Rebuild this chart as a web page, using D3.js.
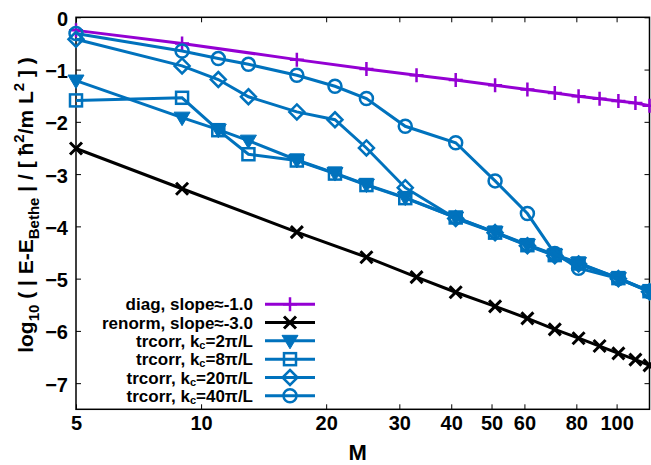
<!DOCTYPE html>
<html>
<head>
<meta charset="utf-8">
<script src="https://cdn.jsdelivr.net/npm/d3@7"></script>
<style>
  body { margin: 0; background: #fff; }
  svg { display: block; }
  text { font-family: "Liberation Sans", Arial, sans-serif; font-weight: bold; }
</style>
</head>
<body>
<div id="root"></div>
<script>
// M values for the diag / renorm runs and for the trcorr runs
let mDiag = [5, 9, 17, 25, 33, 41, 51, 61, 71, 81, 91, 101, 111, 120];
let mTr = [5, 9, 11, 13, 17, 21, 25, 31, 41, 51, 61, 71, 81, 101, 120];

let diag = [-0.25, -0.50, -0.81, -0.99, -1.11, -1.20, -1.30, -1.38, -1.45, -1.51, -1.56, -1.60, -1.64, -1.69];
let renorm = [-2.51, -3.28, -4.11, -4.59, -4.97, -5.26, -5.53, -5.76, -5.97, -6.14, -6.29, -6.43, -6.55, -6.66];
let kc2 = [-1.21, -1.92, -2.15, -2.36, -2.73, -2.98, -3.20, -3.45, -3.83, -4.11, -4.35, -4.54, -4.70, -4.99, -5.24];
let kc8 = [-1.59, -1.54, -2.16, -2.62, -2.74, -2.99, -3.21, -3.46, -3.83, -4.12, -4.36, -4.55, -4.71, -4.99, -5.24];
let kc20 = [-0.42, -0.93, -1.19, -1.52, -1.81, -1.96, -2.50, -3.26, -3.85, -4.12, -4.37, -4.56, -4.72, -5.00, -5.25];
let kc40 = [-0.31, -0.645, -0.79, -0.90, -1.11, -1.32, -1.555, -2.085, -2.40, -3.13, -3.755, -4.52, -4.80, -5.00, -5.25];

let xTicks = [5, 10, 20, 30, 40, 50, 60, 80, 100];
let yTicks = [0, -1, -2, -3, -4, -5, -6, -7];

let series = [
    { name: "diag", label: ["diag, slope≈-1.0"], m: mDiag, v: diag, color: "#9400d3", mark: "plus" },
    { name: "renorm", label: ["renorm, slope≈-3.0"], m: mDiag, v: renorm, color: "#000000", mark: "cross" },
    { name: "kc2", label: ["trcorr, k", "c", "=2π/L"], m: mTr, v: kc2, color: "#0072bd", mark: "triangle" },
    { name: "kc8", label: ["trcorr, k", "c", "=8π/L"], m: mTr, v: kc8, color: "#0072bd", mark: "square" },
    { name: "kc20", label: ["trcorr, k", "c", "=20π/L"], m: mTr, v: kc20, color: "#0072bd", mark: "diamond" },
    { name: "kc40", label: ["trcorr, k", "c", "=40π/L"], m: mTr, v: kc40, color: "#0072bd", mark: "circle" }
];

let width = 651, height = 465;
let plotLeft = 76, plotRight = 649.5, plotTop = 17.3, plotBottom = 409.3;

let svg = d3.select('#root').append('svg')
    .attr('width', width)
    .attr('height', height);

let x = d3.scaleLog().domain([5, 120]).range([plotLeft, plotRight]);
let y = d3.scaleLinear().domain([-7.5, 0]).range([plotBottom, plotTop]);

// axes, ticks pointing inward
let gx = svg.append('g').attr('transform', 'translate(0,' + plotBottom + ')')
    .call(d3.axisBottom(x).tickValues(xTicks).tickFormat(d3.format('d')).tickSize(-5).tickPadding(7));
let gy = svg.append('g').attr('transform', 'translate(' + plotLeft + ',0)')
    .call(d3.axisLeft(y).tickValues(yTicks).tickFormat(d3.format('d')).tickSize(-5).tickPadding(8));
svg.append('g').attr('transform', 'translate(0,' + plotTop + ')')
    .call(d3.axisTop(x).tickValues(xTicks).tickFormat('').tickSize(-5));
svg.append('g').attr('transform', 'translate(' + plotRight + ',0)')
    .call(d3.axisRight(y).tickValues(yTicks).tickFormat('').tickSize(-5));

svg.selectAll('.domain').remove();
svg.selectAll('.tick line').attr('stroke', '#000').attr('stroke-width', 1);
gx.selectAll('text').style('font-size', '20px').attr('fill', '#000');
gy.selectAll('text').style('font-size', '20px').attr('fill', '#000').attr('dy', '0.4em');

svg.append('rect')
    .attr('x', plotLeft).attr('y', plotTop)
    .attr('width', plotRight - plotLeft).attr('height', plotBottom - plotTop)
    .attr('fill', 'none').attr('stroke', '#000').attr('stroke-width', 1.5);

// axis titles
svg.append('text')
    .attr('x', (plotLeft + plotRight) / 2 - 5).attr('y', 460)
    .attr('text-anchor', 'middle')
    .style('font-size', '22px')
    .text('M');

let ylab = svg.append('text')
    .attr('transform', 'translate(33,205) rotate(-90)')
    .attr('text-anchor', 'middle')
    .style('font-size', '21px');
ylab.append('tspan').text('log');
ylab.append('tspan').attr('dy', 6).style('font-size', '15px').text('10');
ylab.append('tspan').attr('dy', -6).text(' ( | E-E');
ylab.append('tspan').attr('dy', 6).style('font-size', '15px').text('Bethe');
ylab.append('tspan').attr('dy', -6).text(' | / [ ħ');
ylab.append('tspan').attr('dy', -9).style('font-size', '15px').text('2');
ylab.append('tspan').attr('dy', 9).text('/m L');
ylab.append('tspan').attr('dy', -9).style('font-size', '15px').text('2');
ylab.append('tspan').attr('dy', 9).text(' ] )');

function drawMark(g, kind, color, cx, cy) {
    let s = 7;
    if (kind === 'plus') {
        g.append('path').attr('d', 'M' + (cx - s) + ',' + cy + 'H' + (cx + s) + 'M' + cx + ',' + (cy - s) + 'V' + (cy + s))
            .attr('stroke', color).attr('stroke-width', 2.5).attr('fill', 'none');
    } else if (kind === 'cross') {
        let c = 6;
        g.append('path').attr('d', 'M' + (cx - c) + ',' + (cy - c) + 'L' + (cx + c) + ',' + (cy + c) + 'M' + (cx - c) + ',' + (cy + c) + 'L' + (cx + c) + ',' + (cy - c))
            .attr('stroke', color).attr('stroke-width', 3).attr('fill', 'none');
    } else if (kind === 'triangle') {
        g.append('path').attr('d', 'M' + (cx - 8) + ',' + (cy - 5.5) + 'L' + (cx + 8) + ',' + (cy - 5.5) + 'L' + cx + ',' + (cy + 8) + 'Z')
            .attr('fill', color).attr('stroke', color).attr('stroke-width', 1);
    } else if (kind === 'square') {
        g.append('rect').attr('x', cx - 6).attr('y', cy - 6).attr('width', 12).attr('height', 12)
            .attr('fill', 'none').attr('stroke', color).attr('stroke-width', 2.5);
    } else if (kind === 'diamond') {
        let d = 7.5;
        g.append('path').attr('d', 'M' + cx + ',' + (cy - d) + 'L' + (cx + d) + ',' + cy + 'L' + cx + ',' + (cy + d) + 'L' + (cx - d) + ',' + cy + 'Z')
            .attr('fill', 'none').attr('stroke', color).attr('stroke-width', 2.5);
    } else if (kind === 'circle') {
        g.append('circle').attr('cx', cx).attr('cy', cy).attr('r', 6.5)
            .attr('fill', 'none').attr('stroke', color).attr('stroke-width', 2.5);
    }
}

let line = d3.line().x(d => x(d[0])).y(d => y(d[1]));

series.forEach(function (s) {
    let pts = s.m.map((m, i) => [m, s.v[i]]);
    let g = svg.append('g').attr('class', s.name);
    g.append('path').datum(pts)
        .attr('d', line)
        .attr('fill', 'none')
        .attr('stroke', s.color)
        .attr('stroke-width', 3);
    pts.forEach(p => drawMark(g, s.mark, s.color, x(p[0]), y(p[1])));
});

// legend
let legendY = d3.scaleBand().domain(d3.range(series.length)).range([295, 405]);
series.forEach(function (s, i) {
    let cy = legendY(i) + legendY.bandwidth() / 2;
    let g = svg.append('g').attr('class', 'legend');
    let t = g.append('text').attr('x', 253).attr('y', cy + 6)
        .attr('text-anchor', 'end').style('font-size', '17px');
    t.append('tspan').text(s.label[0]);
    if (s.label.length > 1) {
        t.append('tspan').attr('dy', 2).style('font-size', '11px').text(s.label[1]);
        t.append('tspan').attr('dy', -2).text(s.label[2]);
    }
    g.append('line').attr('x1', 265).attr('x2', 315).attr('y1', cy).attr('y2', cy)
        .attr('stroke', s.color).attr('stroke-width', 3);
    drawMark(g, s.mark, s.color, 290, cy);
});
</script>
</body>
</html>
